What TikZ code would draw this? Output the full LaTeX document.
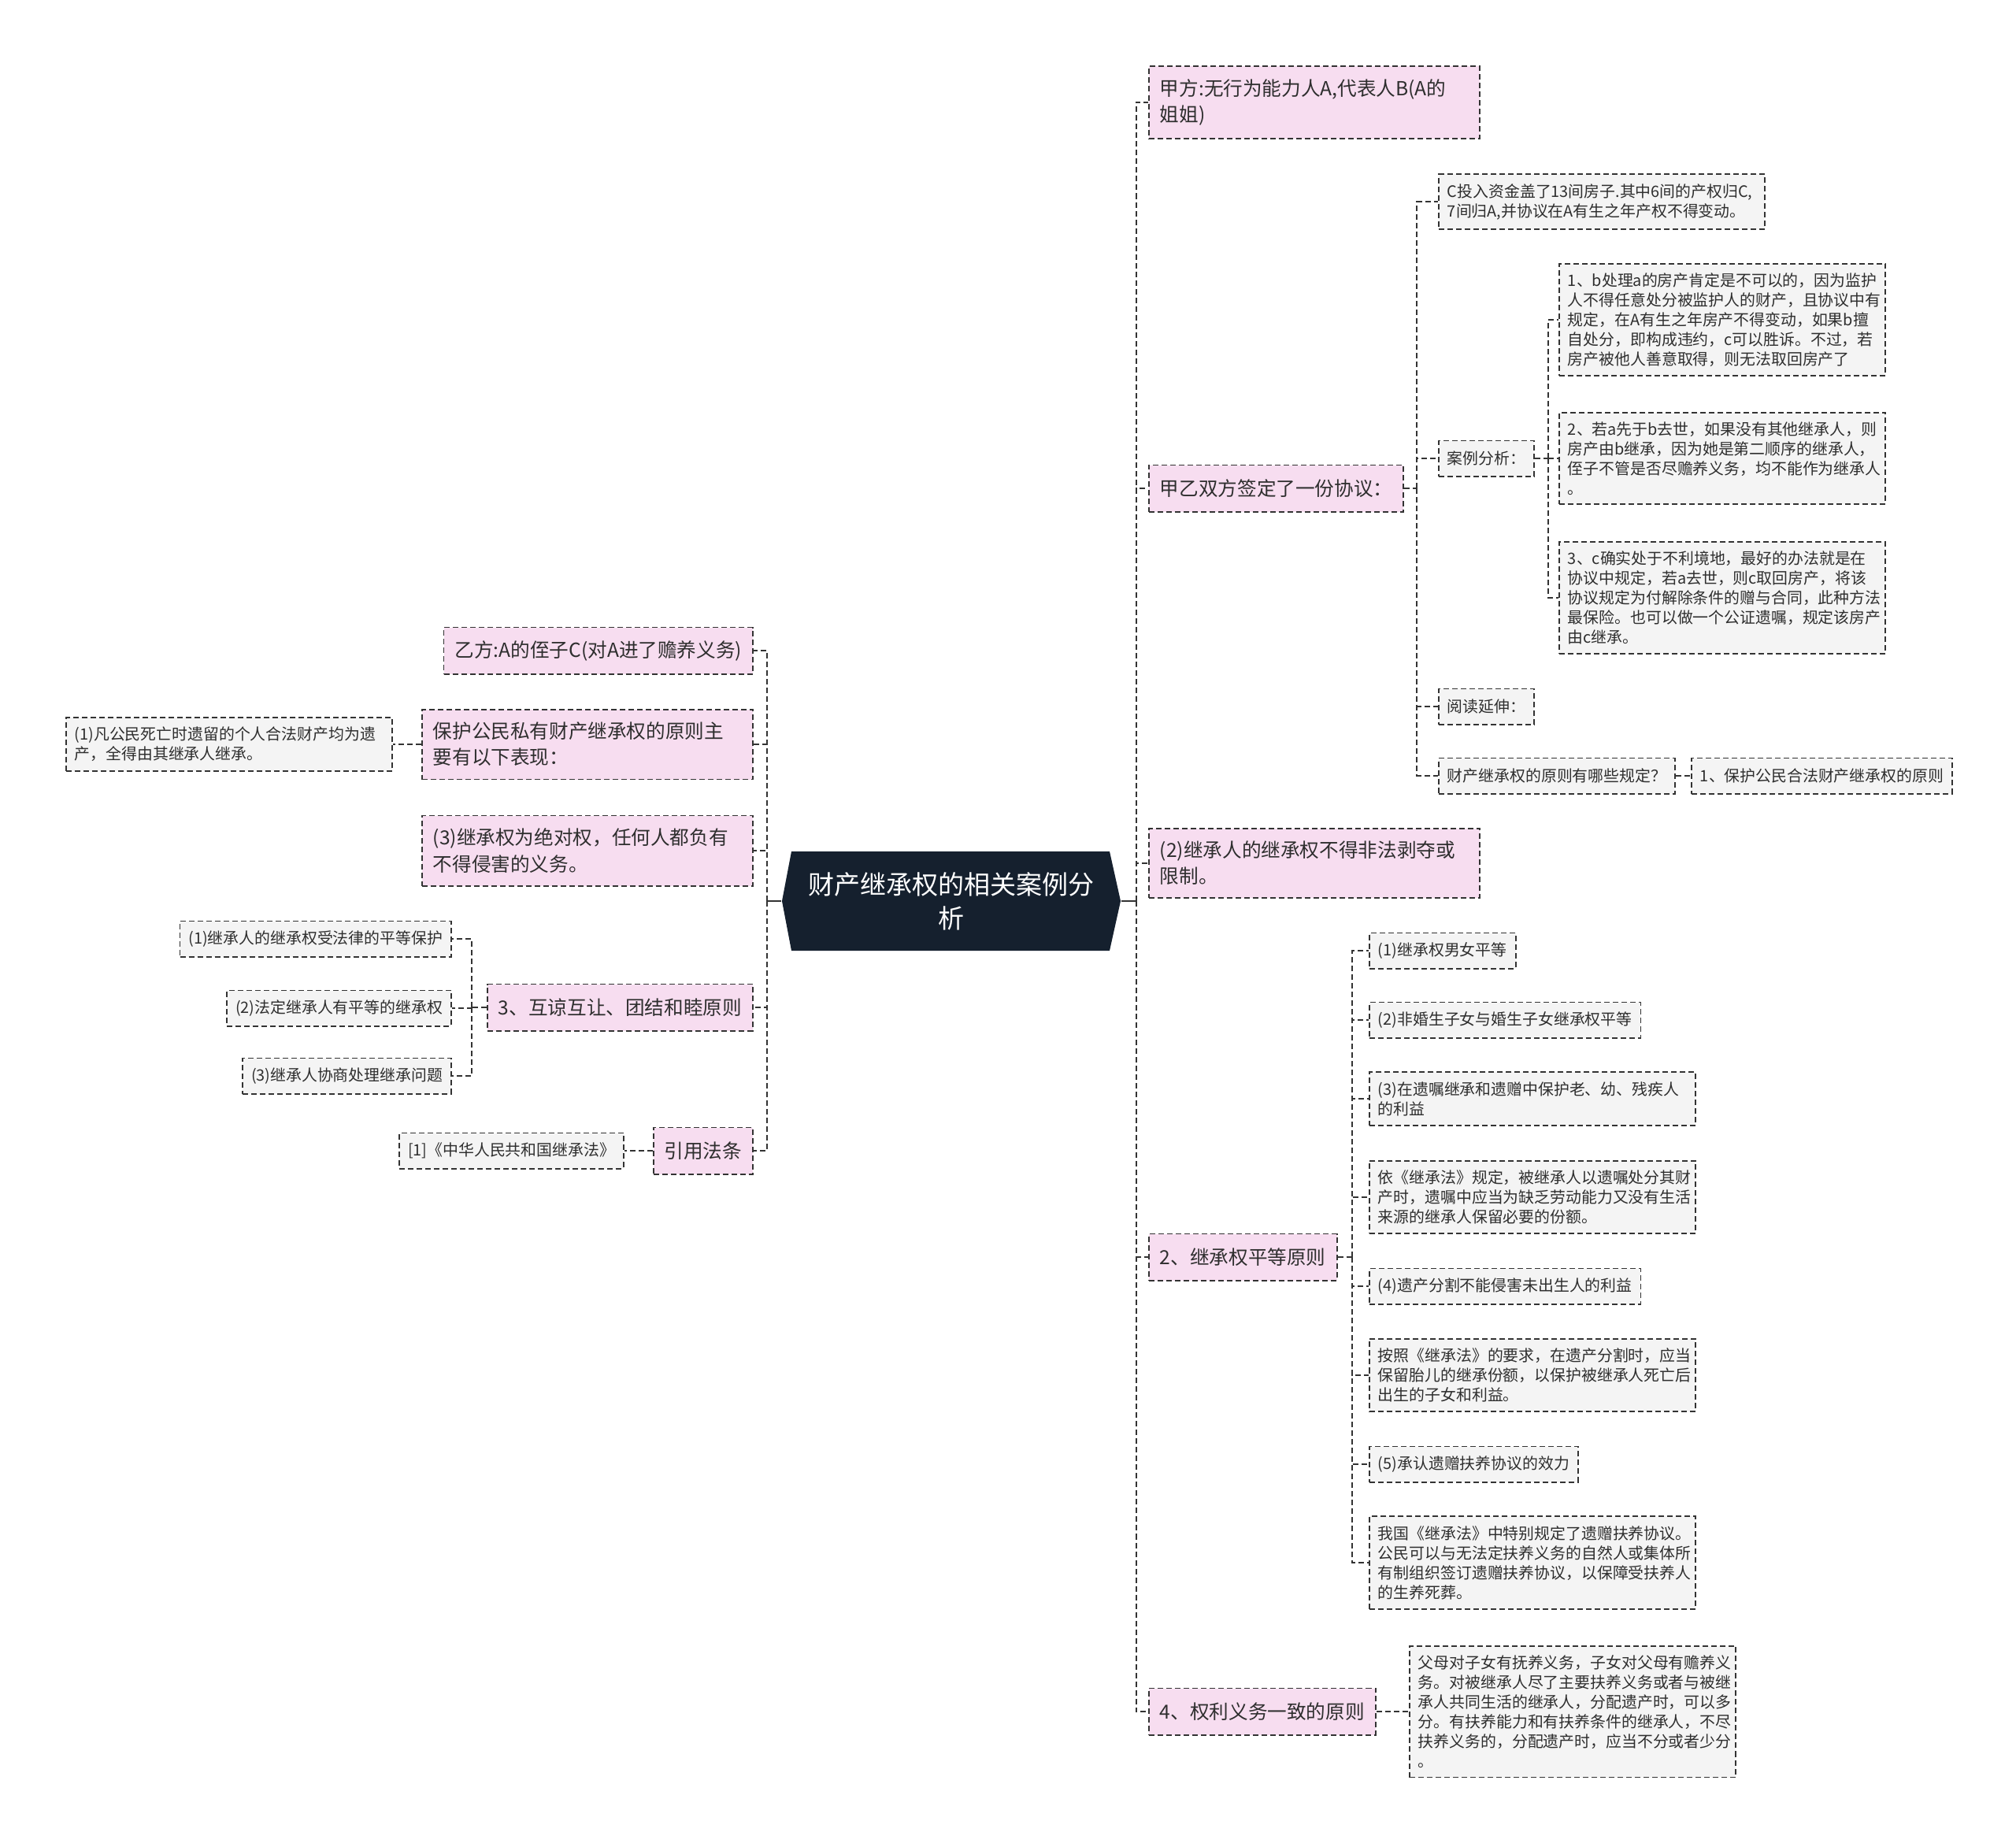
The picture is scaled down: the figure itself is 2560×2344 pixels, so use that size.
\documentclass[tikz,border=0pt]{standalone}
\usepackage{fontspec}
\setmainfont{Noto Sans CJK SC}
\definecolor{rootfill}{HTML}{15202E}
\definecolor{pinkfill}{HTML}{F7DDF0}
\definecolor{leaffill}{HTML}{F4F4F4}
\definecolor{linecol}{HTML}{333333}
\definecolor{textcol}{HTML}{2E2E2E}

\begin{document}
\begin{tikzpicture}[x=0.01cm, y=-0.01cm,
    lvl/.style={draw=linecol, fill=pinkfill, line width=0.55pt, dash pattern=on 0.07cm off 0.04cm,
        text=textcol, font=\fontsize{7}{9.4}\selectfont, align=left,
        inner xsep=0.14cm, inner ysep=0.165cm, minimum height=0.59cm},
    leaf/.style={lvl, fill=leaffill, font=\fontsize{5.65}{7.1}\selectfont,
        inner xsep=0.11cm, inner ysep=0.12cm, minimum height=0.45cm},
    wrap/.style={text width=3.92cm},
    link/.style={draw=linecol, line width=0.6pt, dash pattern=on 0.07cm off 0.04cm},
    stub/.style={draw=linecol, line width=0.8pt},
    root/.style={text=white, align=center, font=\fontsize{9.4}{12.3}\selectfont,
        inner sep=0pt, minimum width=4.3cm, minimum height=1.26cm}]

    \useasboundingbox (0,0) rectangle (2560,2344);

    % 中心主题
    \fill[rootfill] (993,1144) -- (1005,1081) -- (1409,1081) -- (1423,1144)
        -- (1409,1207) -- (1005,1207) -- cycle;
    \node[root] (root) at (1208,1144) {财产继承权的相关案例分\\析};

    % 右侧分支
    \node[lvl, wrap, anchor=west] (jia) at (1458,130) {甲方:无行为能力人A,代表人B(A的\\姐姐)};
    \node[lvl, anchor=west] (xieyi) at (1458,620) {甲乙双方签定了一份协议：};
    \node[lvl, wrap, anchor=west] (bude) at (1458,1096) {(2)继承人的继承权不得非法剥夺或\\限制。};
    \node[lvl, anchor=west] (pingdeng) at (1458,1596) {2、继承权平等原则};
    \node[lvl, anchor=west] (quanli) at (1458,2173) {4、权利义务一致的原则};

    % 协议
    \node[leaf, wrap, anchor=west] (touru) at (1826,256) {C投入资金盖了13间房子.其中6间的产权归C,\\7间归A,并协议在A有生之年产权不得变动。};
    \node[leaf, anchor=west] (anli) at (1826,582) {案例分析：};
    \node[leaf, anchor=west] (yuedu) at (1826,897) {阅读延伸：};
    \node[leaf, anchor=west] (yuanze) at (1826,985) {财产继承权的原则有哪些规定？};
    \node[leaf, anchor=west] (yuanze1) at (2147,985) {1、保护公民合法财产继承权的原则};

    % 案例分析
    \node[leaf, wrap, anchor=west] (fx1) at (1979,406) {1、b处理a的房产肯定是不可以的，因为监护\\人不得任意处分被监护人的财产，且协议中有\\规定，在A有生之年房产不得变动，如果b擅\\自处分，即构成违约，c可以胜诉。不过，若\\房产被他人善意取得，则无法取回房产了};
    \node[leaf, wrap, anchor=west] (fx2) at (1979,582) {2、若a先于b去世，如果没有其他继承人，则\\房产由b继承，因为她是第二顺序的继承人，\\侄子不管是否尽赡养义务，均不能作为继承人\\。};
    \node[leaf, wrap, anchor=west] (fx3) at (1979,759) {3、c确实处于不利境地，最好的办法就是在\\协议中规定，若a去世，则c取回房产，将该\\协议规定为付解除条件的赠与合同，此种方法\\最保险。也可以做一个公证遗嘱，规定该房产\\由c继承。};

    % 平等原则
    \node[leaf, anchor=west] (pd1) at (1738,1207) {(1)继承权男女平等};
    \node[leaf, anchor=west] (pd2) at (1738,1295) {(2)非婚生子女与婚生子女继承权平等};
    \node[leaf, wrap, anchor=west] (pd3) at (1738,1395) {(3)在遗嘱继承和遗赠中保护老、幼、残疾人\\的利益};
    \node[leaf, wrap, anchor=west] (pd4) at (1738,1520) {依《继承法》规定，被继承人以遗嘱处分其财\\产时，遗嘱中应当为缺乏劳动能力又没有生活\\来源的继承人保留必要的份额。};
    \node[leaf, anchor=west] (pd5) at (1738,1633) {(4)遗产分割不能侵害未出生人的利益};
    \node[leaf, wrap, anchor=west] (pd6) at (1738,1746) {按照《继承法》的要求，在遗产分割时，应当\\保留胎儿的继承份额，以保护被继承人死亡后\\出生的子女和利益。};
    \node[leaf, anchor=west] (pd7) at (1738,1859) {(5)承认遗赠扶养协议的效力};
    \node[leaf, wrap, anchor=west] (pd8) at (1738,1984) {我国《继承法》中特别规定了遗赠扶养协议。\\公民可以与无法定扶养义务的自然人或集体所\\有制组织签订遗赠扶养协议，以保障受扶养人\\的生养死葬。};

    \node[leaf, wrap, anchor=west] (quanli1) at (1789,2173) {父母对子女有抚养义务，子女对父母有赡养义\\务。对被继承人尽了主要扶养义务或者与被继\\承人共同生活的继承人，分配遗产时，可以多\\分。有扶养能力和有扶养条件的继承人，不尽\\扶养义务的，分配遗产时，应当不分或者少分\\。};

    % 左侧分支
    \node[lvl, anchor=east] (yi) at (957,826) {乙方:A的侄子C(对A进了赡养义务)};
    \node[lvl, wrap, anchor=east] (baohu) at (957,945) {保护公民私有财产继承权的原则主\\要有以下表现：};
    \node[lvl, wrap, anchor=east] (juedui) at (957,1080) {(3)继承权为绝对权，任何人都负有\\不得侵害的义务。};
    \node[lvl, anchor=east] (hujie) at (957,1279) {3、互谅互让、团结和睦原则};
    \node[lvl, anchor=east] (yinyong) at (957,1461) {引用法条};

    \node[leaf, wrap, anchor=east] (baohu1) at (499,945) {(1)凡公民死亡时遗留的个人合法财产均为遗\\产，全得由其继承人继承。};
    \node[leaf, anchor=east] (hj1) at (574,1192) {(1)继承人的继承权受法律的平等保护};
    \node[leaf, anchor=east] (hj2) at (574,1280) {(2)法定继承人有平等的继承权};
    \node[leaf, anchor=east] (hj3) at (574,1366) {(3)继承人协商处理继承问题};
    \node[leaf, anchor=east] (yinyong1) at (793,1461) {[1]《中华人民共和国继承法》};

    % 连线
    \draw[stub] (root.east) -- ++(19,0) coordinate (rt);
    \foreach \n in {jia,xieyi,bude,pingdeng,quanli}
        \draw[link] (rt) |- (\n.west);
    \draw[stub] (root.west) -- ++(-18,0) coordinate (lt);
    \foreach \n in {yi,baohu,juedui,hujie,yinyong}
        \draw[link] (lt) |- (\n.east);

    \draw[link] (xieyi.east) -- ++(16,0) coordinate (xt);
    \foreach \n in {touru,anli,yuedu,yuanze}
        \draw[link] (xt) |- (\n.west);
    \draw[link] (anli.east) -- ++(17,0) coordinate (at);
    \foreach \n in {fx1,fx2,fx3}
        \draw[link] (at) |- (\n.west);
    \draw[link] (yuanze.east) -- (yuanze1.west);

    \draw[link] (pingdeng.east) -- ++(18,0) coordinate (pt);
    \foreach \n in {pd1,pd2,pd3,pd4,pd5,pd6,pd7,pd8}
        \draw[link] (pt) |- (\n.west);
    \draw[link] (quanli.east) -- (quanli1.west);

    \draw[link] (baohu.west) -- (baohu1.east);
    \draw[link] (hujie.west) -- ++(-19,0) coordinate (ht);
    \foreach \n in {hj1,hj2,hj3}
        \draw[link] (ht) |- (\n.east);
    \draw[link] (yinyong.west) -- (yinyong1.east);
\end{tikzpicture}
\end{document}
